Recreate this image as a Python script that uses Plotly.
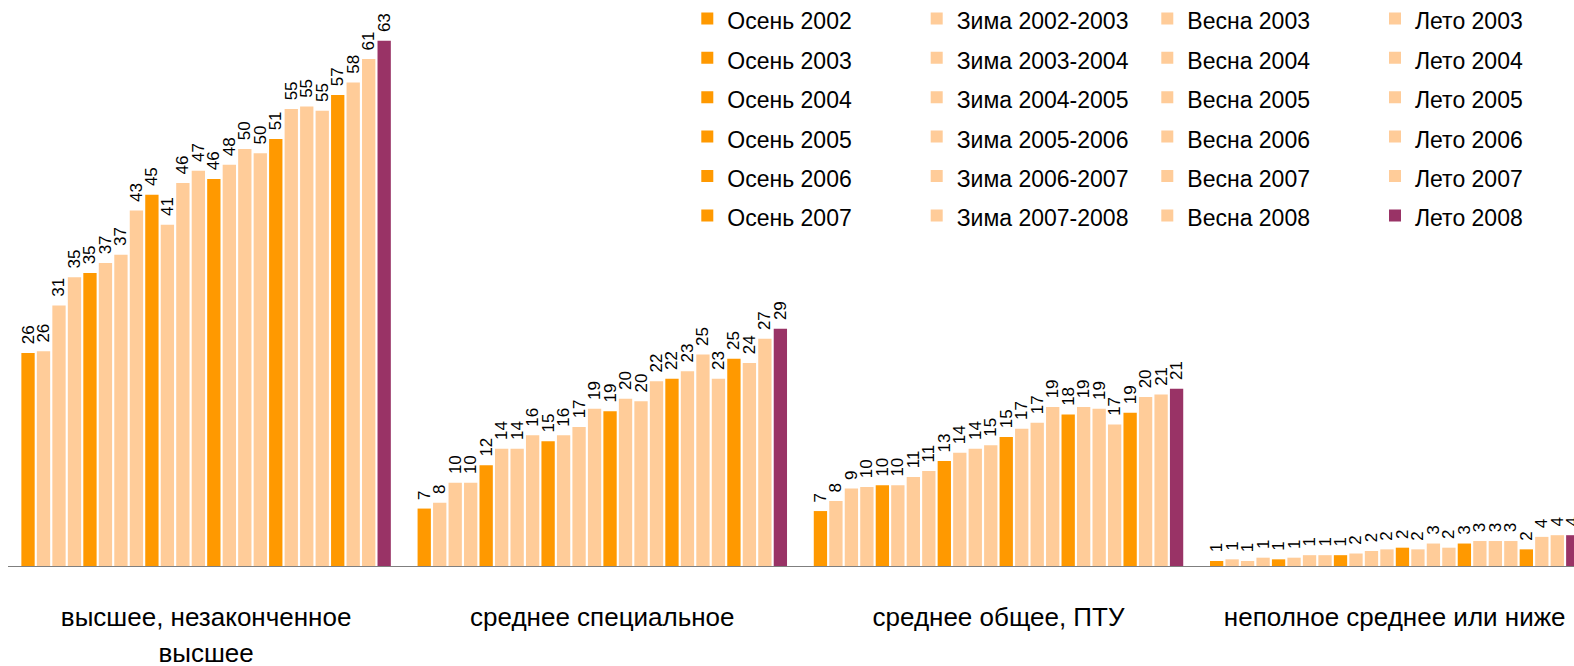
import plotly.graph_objects as go

# ---------------- data ----------------
categories = [
    "высшее, незаконченное высшее",
    "среднее специальное",
    "среднее общее, ПТУ",
    "неполное среднее или ниже",
]
# axis tick labels (wrapped as in the original)
category_ticks = [
    ["высшее, незаконченное", "высшее"],
    ["среднее специальное"],
    ["среднее общее, ПТУ"],
    ["неполное среднее или ниже"],
]

series_names = [
    "Осень 2002", "Зима 2002-2003", "Весна 2003", "Лето 2003",
    "Осень 2003", "Зима 2003-2004", "Весна 2004", "Лето 2004",
    "Осень 2004", "Зима 2004-2005", "Весна 2005", "Лето 2005",
    "Осень 2005", "Зима 2005-2006", "Весна 2006", "Лето 2006",
    "Осень 2006", "Зима 2006-2007", "Весна 2007", "Лето 2007",
    "Осень 2007", "Зима 2007-2008", "Весна 2008", "Лето 2008",
]

# bar heights (%) per education level, one value per survey wave
higher = [25.6, 25.8, 31.3, 34.7, 35.2, 36.4, 37.4, 42.7, 44.6, 41.0, 46.0, 47.5,
          46.5, 48.2, 50.1, 49.6, 51.3, 54.9, 55.2, 54.7, 56.6, 58.1, 60.9, 63.1]
special = [6.9, 7.6, 10.0, 10.0, 12.1, 14.1, 14.1, 15.7, 15.0, 15.7, 16.7, 18.9,
           18.6, 20.1, 19.8, 22.2, 22.5, 23.4, 25.4, 22.5, 24.9, 24.4, 27.3, 28.5]
general = [6.6, 7.8, 9.3, 9.5, 9.7, 9.7, 10.7, 11.4, 12.6, 13.6, 14.1, 14.5,
           15.5, 16.5, 17.2, 19.1, 18.2, 19.1, 18.9, 17.0, 18.4, 20.3, 20.6, 21.3]
incomplete = [0.6, 0.8, 0.6, 1.0, 0.8, 1.0, 1.3, 1.3, 1.3, 1.5, 1.8, 2.0,
              2.2, 2.0, 2.7, 2.2, 2.7, 3.0, 3.0, 3.0, 2.0, 3.5, 3.7, 3.7]

# printed value labels
higher_labels = [26, 26, 31, 35, 35, 37, 37, 43, 45, 41, 46, 47,
                 46, 48, 50, 50, 51, 55, 55, 55, 57, 58, 61, 63]
special_labels = [7, 8, 10, 10, 12, 14, 14, 16, 15, 16, 17, 19,
                  19, 20, 20, 22, 22, 23, 25, 23, 25, 24, 27, 29]
general_labels = [7, 8, 9, 10, 10, 10, 11, 11, 13, 14, 14, 15,
                  15, 17, 17, 19, 18, 19, 19, 17, 19, 20, 21, 21]
incomplete_labels = [1, 1, 1, 1, 1, 1, 1, 1, 1, 2, 2, 2,
                     2, 2, 3, 2, 3, 3, 3, 3, 2, 4, 4, 4]

# ---------------- styles ----------------
ORANGE = "#FF9900"
PEACH = "#FFCC99"
PURPLE = "#993366"
FONT = "Liberation Sans, Arial, sans-serif"
W, H = 1574, 666
PLOT_H = 566


def sized(text, px):
    return '<span style="font-size:%dpx">%s</span>' % (px, text)


season_legend = {"Осень": "legend", "Зима": "legend2", "Весна": "legend3", "Лето": "legend4"}

fig = go.Figure()
values = [higher, special, general, incomplete]
labels = [higher_labels, special_labels, general_labels, incomplete_labels]
last = len(series_names) - 1
for i, name in enumerate(series_names):
    season = name.split()[0]
    if i == last:
        color = PURPLE
    elif season == "Осень":
        color = ORANGE
    else:
        color = PEACH
    fig.add_trace(go.Bar(
        x=categories,
        y=[v[i] for v in values],
        text=["\u2004" + str(l[i]) for l in labels],
        textposition="outside",
        textangle=-90,
        constraintext="none",
        cliponaxis=False,
        textfont=dict(family=FONT, size=17, color="black"),
        marker=dict(color=color, line=dict(width=0)),
        name=sized(name, 23),
        legend=season_legend[season],
        hoverinfo="skip",
    ))

legend_common = dict(
    orientation="v", xref="container", yref="paper",
    xanchor="left", yanchor="top", y=1 + 6.3 / PLOT_H,
    font=dict(family=FONT, size=28, color="black"),
    bgcolor="rgba(0,0,0,0)", borderwidth=0, traceorder="normal",
)

fig.update_layout(
    width=W, height=H,
    margin=dict(l=8, r=0, t=0, b=H - PLOT_H, autoexpand=False),
    paper_bgcolor="white", plot_bgcolor="white",
    barmode="group", bargap=0.062, bargroupgap=0.14,
    showlegend=True,
    xaxis=dict(
        range=[-0.5, -0.5 + (W - 8) / 396.2],
        tickmode="array",
        tickvals=categories,
        ticktext=["<br>".join(sized(part, 26) for part in t) for t in category_ticks],
        showline=True, linecolor="#7f7f7f", linewidth=1,
        showgrid=False, zeroline=False, ticks="",
        tickfont=dict(family=FONT, size=28, color="black"),
        ticklabelstandoff=25,
    ),
    yaxis=dict(range=[0, 68], visible=False),
    legend=dict(x=687.3 / W, **legend_common),
    legend2=dict(x=916.7 / W, **legend_common),
    legend3=dict(x=1147.3 / W, **legend_common),
    legend4=dict(x=1375.0 / W, **legend_common),
)

fig.write_html(
    "out.html",
    config={"displayModeBar": False},
    post_script="document.body.style.margin='0';document.body.style.overflow='hidden';",
)
